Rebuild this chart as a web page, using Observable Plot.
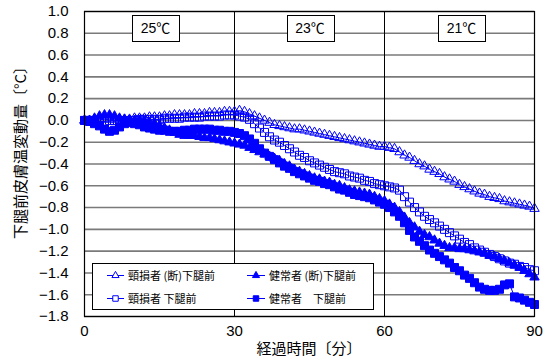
<!DOCTYPE html>
<html><head><meta charset="utf-8">
<script src="https://cdn.jsdelivr.net/npm/d3@7"></script>
<script src="https://cdn.jsdelivr.net/npm/@observablehq/plot@0.6"></script>
<style>
html,body{margin:0;padding:0;background:#fff;}
#chart svg{display:block;}
</style>
</head><body><div id="chart"></div>
<script>
// ---- data ----
const minutes = d3.range(0, 91);
const xTicks = [0, 30, 60, 90];
const yTicks = [1.0, 0.8, 0.6, 0.4, 0.2, 0.0, -0.2, -0.4, -0.6, -0.8, -1.0, -1.2, -1.4, -1.6, -1.8];
const zoneBounds = [30, 60];
const zoneLabels = ["25℃", "23℃", "21℃"];
const zoneLabelX = [14.3, 45.2, 75.5];
const zoneLabelY = 0.84;

const seriesNames = ["頸損者 (断)下腿前", "健常者 (断)下腿前", "頸損者 下腿前", "健常者\u3000下腿前"];

const keisonDan = [0.00,0.00,0.00,0.01,0.01,0.01,0.01,0.01,0.01,0.01,
 0.02,0.02,0.02,0.03,0.03,0.03,0.04,0.04,0.05,0.05,
 0.05,0.05,0.06,0.06,0.06,0.07,0.07,0.07,0.08,0.08,
 0.08,0.09,0.08,0.06,0.04,0.02,0.00,-0.02,-0.04,-0.05,
 -0.06,-0.07,-0.08,-0.08,-0.09,-0.10,-0.11,-0.12,-0.13,-0.14,
 -0.15,-0.16,-0.17,-0.18,-0.19,-0.20,-0.21,-0.22,-0.23,-0.24,
 -0.24,-0.25,-0.26,-0.29,-0.32,-0.34,-0.37,-0.40,-0.42,-0.45,
 -0.47,-0.49,-0.52,-0.54,-0.56,-0.59,-0.61,-0.63,-0.65,-0.67,
 -0.68,-0.70,-0.71,-0.72,-0.74,-0.75,-0.76,-0.77,-0.78,-0.79,
 -0.81];

const keison = [0.00,0.00,0.00,-0.01,-0.01,0.00,0.00,0.00,0.00,0.00,
 0.00,0.01,0.01,0.01,0.01,0.01,0.02,0.02,0.02,0.02,
 0.03,0.03,0.03,0.03,0.04,0.04,0.04,0.04,0.05,0.05,
 0.05,0.04,0.03,0.01,-0.03,-0.07,-0.11,-0.15,-0.18,-0.20,
 -0.23,-0.26,-0.29,-0.32,-0.34,-0.37,-0.39,-0.41,-0.43,-0.45,
 -0.47,-0.48,-0.49,-0.51,-0.52,-0.53,-0.55,-0.56,-0.58,-0.59,
 -0.60,-0.61,-0.62,-0.64,-0.70,-0.75,-0.80,-0.84,-0.88,-0.91,
 -0.94,-0.97,-1.00,-1.03,-1.06,-1.09,-1.12,-1.14,-1.17,-1.19,
 -1.21,-1.23,-1.25,-1.27,-1.29,-1.31,-1.32,-1.34,-1.35,-1.37,
 -1.38];

const kenjoDan = [0.00,0.00,0.02,0.04,0.05,0.05,0.04,0.02,0.01,0.00,
 0.00,0.00,-0.01,-0.02,-0.03,-0.05,-0.07,-0.09,-0.11,-0.13,
 -0.14,-0.14,-0.14,-0.15,-0.16,-0.16,-0.17,-0.18,-0.19,-0.20,
 -0.21,-0.22,-0.23,-0.25,-0.27,-0.29,-0.31,-0.33,-0.35,-0.37,
 -0.40,-0.42,-0.45,-0.47,-0.49,-0.51,-0.53,-0.54,-0.56,-0.57,
 -0.59,-0.60,-0.62,-0.64,-0.65,-0.66,-0.67,-0.68,-0.70,-0.72,
 -0.74,-0.77,-0.80,-0.84,-0.89,-0.94,-0.98,-1.02,-1.05,-1.07,
 -1.10,-1.13,-1.15,-1.17,-1.17,-1.18,-1.18,-1.19,-1.20,-1.21,
 -1.22,-1.24,-1.25,-1.27,-1.29,-1.31,-1.33,-1.35,-1.38,-1.41,
 -1.44];

const kenjo = [0.00,-0.01,-0.03,-0.05,-0.08,-0.10,-0.09,-0.06,-0.03,-0.02,
 -0.03,-0.04,-0.06,-0.07,-0.08,-0.09,-0.09,-0.10,-0.10,-0.10,
 -0.09,-0.09,-0.08,-0.08,-0.08,-0.08,-0.09,-0.09,-0.10,-0.10,
 -0.11,-0.12,-0.14,-0.17,-0.21,-0.26,-0.30,-0.33,-0.36,-0.39,
 -0.42,-0.44,-0.47,-0.49,-0.51,-0.53,-0.55,-0.56,-0.58,-0.59,
 -0.61,-0.63,-0.64,-0.66,-0.68,-0.69,-0.70,-0.71,-0.73,-0.75,
 -0.77,-0.80,-0.84,-0.88,-0.94,-1.01,-1.07,-1.11,-1.15,-1.19,
 -1.22,-1.25,-1.28,-1.31,-1.35,-1.38,-1.42,-1.45,-1.49,-1.53,
 -1.55,-1.56,-1.56,-1.55,-1.51,-1.50,-1.62,-1.63,-1.65,-1.67,
 -1.69];

// ---- build ----
const BLUE = "#0000ff";
const series = [
  {name: seriesNames[0], values: keisonDan, symbol: "triangle", filled: false, r: 3.5},
  {name: seriesNames[1], values: kenjoDan,  symbol: "triangle", filled: true,  r: 3.5},
  {name: seriesNames[2], values: keison,    symbol: "square",   filled: false, r: 4.5},
  {name: seriesNames[3], values: kenjo,     symbol: "square",   filled: true,  r: 4.5}
];
const rowsOf = s => s.values.map((v, i) => ({t: minutes[i], v}));

const drawOrder = [series[0], series[2], series[1], series[3]];
const dataMarks = drawOrder.flatMap(s => {
  const rows = rowsOf(s);
  return [
    Plot.line(rows, {x: "t", y: "v", stroke: BLUE, strokeWidth: 1}),
    Plot.dot(rows, {x: "t", y: "v", symbol: s.symbol, r: s.r,
      fill: s.filled ? BLUE : "none", stroke: BLUE, strokeWidth: 1})
  ];
});

const fig = Plot.plot({
  width: 543,
  height: 356,
  marginLeft: 84,
  marginRight: 9,
  marginTop: 11,
  marginBottom: 40,
  style: {fontFamily: "'Liberation Sans', Arial, 'Noto Sans CJK JP', sans-serif", fontSize: "15px", background: "#fff", color: "#000"},
  x: {domain: [0, 90]},
  y: {domain: [-1.8, 1.0]},
  marks: [
    Plot.gridY(yTicks, {stroke: "#7a7a7a", strokeOpacity: 1, strokeWidth: 1.6}),
    Plot.ruleX(zoneBounds, {stroke: "#000", strokeWidth: 1}),
    Plot.axisY({ticks: yTicks, tickFormat: d3.format(".1f"), tickSize: 0, tickPadding: 16, label: null, fontSize: 15}),
    Plot.axisX({ticks: xTicks, tickFormat: d3.format("d"), tickSize: 0, tickPadding: 9, label: null, fontSize: 15}),
    ...dataMarks,
    Plot.frame({stroke: "#000", strokeWidth: 1.2})
  ]
});
document.getElementById("chart").appendChild(fig);

// ---- post-processing: zone boxes, titles, legend ----
const svg = d3.select(fig);
const xs = fig.scale("x"), ys = fig.scale("y");
const CJK = "'Noto Sans CJK JP', sans-serif";

// zone labels with boxes (positioned through the plot's scales)
const zg = svg.append("g");
zoneLabels.forEach((lab, i) => {
  const cx = xs.apply(zoneLabelX[i]), cy = ys.apply(zoneLabelY);
  zg.append("rect")
    .attr("x", Math.round(cx - 23.5) + 0.5).attr("y", Math.round(cy - 13) + 0.5)
    .attr("width", 47).attr("height", 26)
    .attr("fill", "#fff").attr("stroke", "#000").attr("stroke-width", 1);
  zg.append("text")
    .attr("x", cx).attr("y", cy)
    .attr("text-anchor", "middle").attr("dominant-baseline", "central")
    .attr("font-family", "'Liberation Sans', 'Noto Sans CJK JP', sans-serif")
    .attr("font-size", 14).attr("fill", "#000")
    .text(lab);
});

// x title
svg.append("text")
  .attr("x", (xs.apply(0) + xs.apply(90)) / 2).attr("y", 347)
  .attr("text-anchor", "middle").attr("dominant-baseline", "central")
  .attr("font-family", CJK).attr("font-size", 15).attr("fill", "#000")
  .text("経過時間〔分〕");
// y title
svg.append("text")
  .attr("transform", "translate(19,149) rotate(-90)")
  .attr("text-anchor", "middle").attr("dominant-baseline", "central")
  .attr("font-family", CJK).attr("font-size", 15).attr("fill", "#000")
  .text("下腿前皮膚温変動量〔°C〕");

// legend
const lg = svg.append("g");
lg.append("rect").attr("x", 92.5).attr("y", 263.5).attr("width", 281).attr("height", 46)
  .attr("fill", "#fff").attr("stroke", "#000").attr("stroke-width", 1);
const colX = [107, 247], colW = [17, 18], rowY = [275, 298];
series.forEach((s, i) => {
  const c = i % 2, r = Math.floor(i / 2);
  const x0 = colX[c], x1 = colX[c] + colW[c], y = rowY[r];
  const cxm = (x0 + x1) / 2;
  lg.append("line").attr("x1", x0).attr("x2", x1).attr("y1", y + 0.5).attr("y2", y + 0.5)
    .attr("stroke", BLUE).attr("stroke-width", 1);
  const sym = s.symbol === "triangle" ? d3.symbolTriangle : d3.symbolSquare;
  const size = s.symbol === "triangle" ? 22 : 30;
  lg.append("path").attr("d", d3.symbol(sym, size)())
    .attr("transform", `translate(${cxm},${y + 0.5})`)
    .attr("fill", s.filled ? BLUE : "#fff").attr("stroke", BLUE).attr("stroke-width", 1);
  lg.append("text").attr("x", x1 + 4).attr("y", y)
    .attr("text-anchor", "start")
    .attr("dominant-baseline", "central")
    .attr("font-family", CJK).attr("font-size", 11).attr("fill", "#000")
    .text(s.name);
});
</script>
</body></html>
